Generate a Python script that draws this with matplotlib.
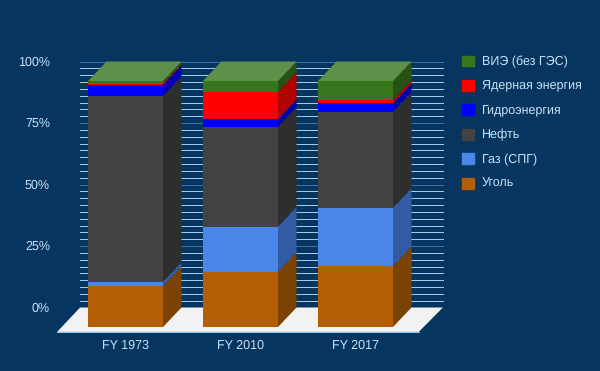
import matplotlib
matplotlib.use('Agg')
import matplotlib.pyplot as plt
from matplotlib.patches import Patch, Polygon

plt.rcParams['text.hinting'] = 'no_hinting'

years = ['FY 1973', 'FY 2010', 'FY 2017']
names = ['Уголь', 'Газ (СПГ)', 'Нефть', 'Гидроэнергия', 'Ядерная энергия', 'ВИЭ (без ГЭС)']
coal = [16.7, 22.5, 24.8]
gas = [1.7, 18.3, 23.7]
oil = [75.5, 40.6, 39.0]
hydro = [4.5, 3.1, 3.4]
nuclear = [0.5, 11.2, 1.4]
renew = [1.1, 4.3, 7.7]
y_labels = ['0%', '25%', '50%', '75%', '100%']

front = ['#b45f06', '#4a86e8', '#434343', '#0000ff', '#ff0000', '#38761d']
side = ['#7a4304', '#315ca3', '#2e2e2e', '#0000b0', '#b00000', '#275214']
top_color = '#5f9049'
bg = '#06355f'
label_color = '#c9e2f7'

bar_w = 75 / 115
dx = 18.5 / 115
dy = 19.5 / 2.46

fig = plt.figure(figsize=(6, 3.71), dpi=100, facecolor=bg)
ax = fig.add_axes([0, 0, 1, 1])
ax.set_xlim(-125.5 / 115, 474.5 / 115)
ax.set_ylim(-44 / 2.46, 327 / 2.46)
ax.axis('off')

# back wall lines, 36 steps with a dimmer one every 25%
wall_l, wall_r = -0.395, 2.76
for i in range(1, 37):
    c = '#3f76ad' if i % 9 == 0 else '#a5d0ef'
    ax.plot([wall_l, wall_r], [i * 100 / 36 + dy] * 2, color=c, lw=0.7, zorder=1)

# floor
ax.add_patch(Polygon([(wall_l - 0.2, -2), (wall_r - 0.21, -2), (wall_r, dy), (wall_l, dy)],
                     fc='#f2f2f2', ec='none', zorder=2))
ax.plot([wall_l - 0.2, wall_r - 0.21], [-2, -2], color='#9fc5e8', lw=0.7, zorder=2)

series = [coal, gas, oil, hydro, nuclear, renew]
for i in range(len(years)):
    l = i - bar_w / 2
    r = i + bar_w / 2
    b = 0
    for vals, fc, sc in zip(series, front, side):
        t = b + vals[i]
        ax.fill([l, r, r, l], [b, b, t, t], color=fc, lw=0, zorder=3)
        ax.fill([r, r + dx, r + dx, r], [b, b + dy, t + dy, t], color=sc, lw=0, zorder=3)
        b = t
    ax.fill([l, r, r + dx, l + dx], [b, b, b + dy, b + dy], color=top_color, lw=0, zorder=3)
    ax.text(i, -7.6, years[i], color=label_color, fontsize=9, family='Liberation Sans',
            ha='center', va='center', zorder=4)

for k, lab in enumerate(y_labels):
    ax.text(-0.657, k * 25 + dy - 0.4, lab, color=label_color, fontsize=9, family='Liberation Sans',
            ha='right', va='center', zorder=4)

handles = [Patch(color=c, label=n) for c, n in zip(front, names)][::-1]
leg = fig.legend(handles=handles, loc='upper left', bbox_to_anchor=(462 / 600, 1 - 55.5 / 371),
                 frameon=False, borderpad=0, borderaxespad=0, handlelength=0.96, handleheight=0.96,
                 labelspacing=0.96, handletextpad=0.62,
                 prop={'family': 'Liberation Sans', 'size': 9}, labelcolor=label_color)

fig.savefig('out.png', dpi=100, facecolor=bg)
